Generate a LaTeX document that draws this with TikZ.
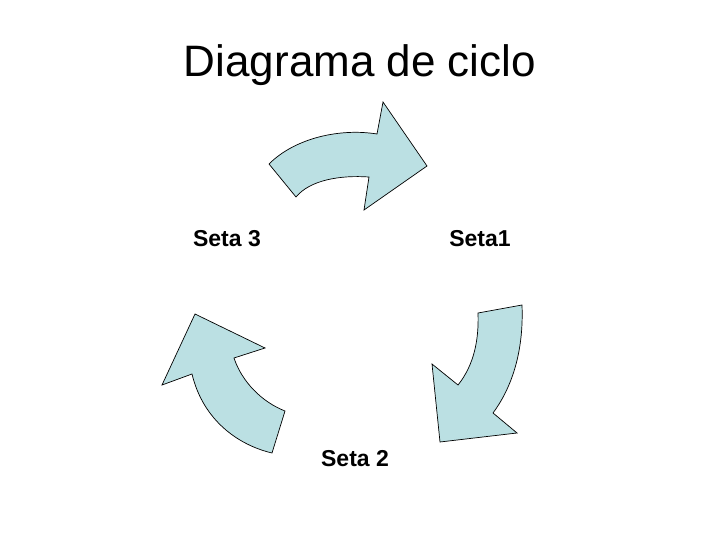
\documentclass[tikz,border=0pt]{standalone}
\usepackage{fontspec}
\setmainfont{Liberation Sans}
\definecolor{arrowfill}{HTML}{BBE0E3}
\tikzset{
  cyclearrow/.style={draw=black, line width=0.7pt, fill=arrowfill, line join=miter},
  titletext/.style={font=\fontsize{44}{50}\selectfont, anchor=base, inner sep=0pt},
  labeltext/.style={font=\bfseries\fontsize{23}{27}\selectfont, anchor=base, inner sep=0pt}
}
\begin{document}
\begin{tikzpicture}[x=1pt,y=-1pt]
\useasboundingbox (0,0) rectangle (720,540);
% title
\node[titletext] (title) at (360,77) {Diagrama de ciclo};
% arrow 1 (top)
\draw[cyclearrow] (269,164) .. controls (295,138) and (340,128) .. (377,134)
  -- (383,102) -- (427,166) -- (364,210) -- (369,177)
  .. controls (340,175) and (310,180) .. (296,197) -- cycle;
% arrow 2 (right)
\draw[cyclearrow] (522,305) -- (478,313)
  .. controls (479,340) and (474,365) .. (458,385)
  -- (432,364) -- (440,442) -- (517,433) -- (493,413)
  .. controls (510,390) and (524,355) .. (522,305) -- cycle;
% arrow 3 (left)
\draw[cyclearrow] (195,314) -- (265,348) -- (234,358)
  .. controls (242,382) and (262,402) .. (285,411)
  -- (272,453)
  .. controls (238,445) and (203,420) .. (192,374)
  -- (162,385) -- cycle;
% labels
\node[labeltext] (seta1) at (480,246) {Seta1};
\node[labeltext] (seta2) at (355,466) {Seta 2};
\node[labeltext] (seta3) at (227,246) {Seta 3};
\end{tikzpicture}
\end{document}
